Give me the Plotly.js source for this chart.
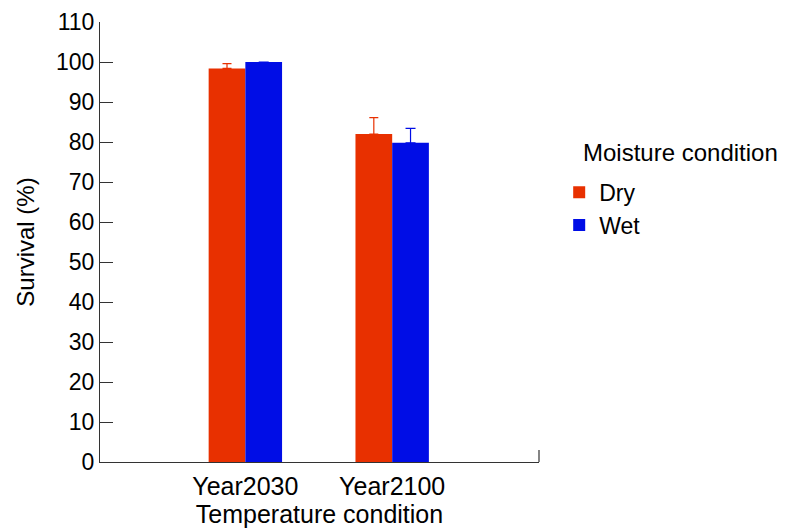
<!DOCTYPE html>
<html>
<head>
<meta charset="utf-8">
<script src="https://cdn.plot.ly/plotly-3.0.1.min.js"></script>
<style>
  html, body { margin: 0; padding: 0; background: #ffffff; }
  #chart { width: 785px; height: 531px; }
</style>
</head>
<body>
<div id="chart"></div>
<script>
const years = ['Year2030', 'Year2100'];
const dryValues = [98.4, 82.0];
const dryErrors = [1.2, 4.1];
const wetValues = [100.0, 79.8];
const wetErrors = [0, 3.6];

const dryColor = '#e83000';
const wetColor = '#000de6';

var data = [
  {
    x: years,
    y: dryValues,
    name: 'Dry',
    type: 'bar',
    marker: { color: dryColor },
    error_y: {
      type: 'data',
      array: dryErrors,
      symmetric: false,
      arrayminus: [0, 0],
      color: dryColor,
      thickness: 1.2,
      width: 4.5
    }
  },
  {
    x: years,
    y: wetValues,
    name: 'Wet',
    type: 'bar',
    marker: { color: wetColor },
    error_y: {
      type: 'data',
      array: wetErrors,
      symmetric: false,
      arrayminus: [0, 0],
      color: wetColor,
      thickness: 1.2,
      width: 5
    }
  }
];

var layout = {
  width: 785,
  height: 531,
  paper_bgcolor: '#ffffff',
  plot_bgcolor: '#ffffff',
  font: { family: 'Liberation Sans, Arial, sans-serif', size: 24, color: '#000000' },
  margin: { l: 100, r: 246, t: 22, b: 69 },
  barmode: 'group',
  bargap: 0.5,
  bargroupgap: 0,
  showlegend: true,
  // legend title drawn as an annotation so it can sit right of the markers
  legend: {
    x: 1.046,
    xanchor: 'left',
    y: 0.662,
    yanchor: 'top',
    font: { size: 23 },
    itemwidth: 30,
    tracegroupgap: 0
  },
  annotations: [
    {
      text: 'Moisture condition',
      xref: 'paper', yref: 'paper',
      x: 1.095, y: 0.7045,
      xanchor: 'left', yanchor: 'middle',
      showarrow: false,
      font: { size: 24 }
    }
  ],
  xaxis: {
    type: 'category',
    range: [-0.99, 2.0],
    showline: true,
    linecolor: '#333333',
    linewidth: 1.2,
    ticks: '',
    showgrid: false,
    zeroline: false,
    tickfont: { size: 25 },
    ticklabelstandoff: 2,
    title: { text: 'Temperature condition', font: { size: 25 }, standoff: 4 }
  },
  yaxis: {
    range: [0, 110],
    dtick: 10,
    showline: true,
    linecolor: '#333333',
    linewidth: 1.2,
    ticks: 'inside',
    ticklen: 13,
    tickcolor: '#333333',
    tickwidth: 1.2,
    showgrid: false,
    zeroline: false,
    tickfont: { size: 23 },
    title: { text: 'Survival (%)', font: { size: 24 }, standoff: 14 }
  },
  shapes: [
    {
      type: 'line',
      xref: 'paper', yref: 'y',
      x0: 1, x1: 1, y0: 0, y1: 3,
      line: { color: '#333333', width: 1.2 }
    }
  ]
};

Plotly.newPlot('chart', data, layout, { displayModeBar: false });
</script>
</body>
</html>
